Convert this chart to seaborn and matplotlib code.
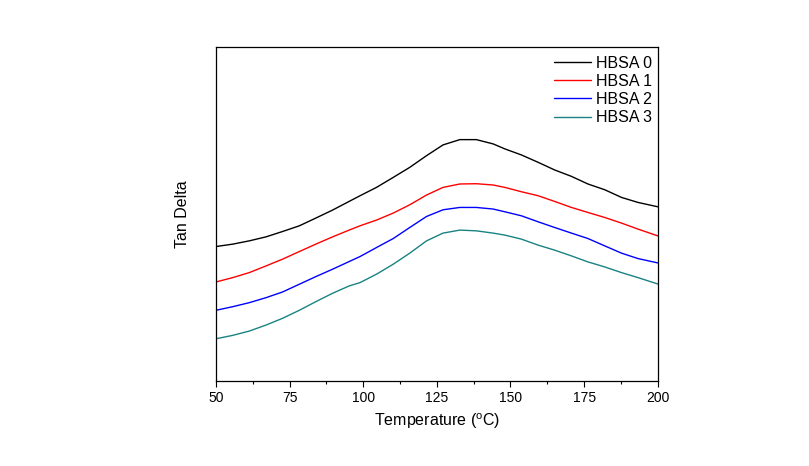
import seaborn as sns
import matplotlib.pyplot as plt
import pandas as pd
from matplotlib.ticker import MultipleLocator

# temperatures (deg C)
temps = [50, 55.7, 61.3, 67.0, 72.6, 78.3, 83.9, 89.6, 95.2, 98.9, 104.5, 110.2, 115.8, 121.5,
         127.1, 132.8, 138.4, 144.1, 148.1, 153.7, 159.4, 165.0, 170.7, 176.3, 182.0, 187.7, 193.3, 200]

# tan delta values, arbitrary units (no y scale in the figure)
hbsa0 = [0.2015, 0.2051, 0.210, 0.216, 0.2240, 0.2325, 0.2441, 0.2561, 0.2690, 0.2775,
         0.2900, 0.3050, 0.3200, 0.3375, 0.3536, 0.3615, 0.3615, 0.3551, 0.3476, 0.3386,
         0.3275, 0.3161, 0.3065, 0.2951, 0.2865, 0.2750, 0.2675, 0.2610]
hbsa1 = [0.1485, 0.1550, 0.1625, 0.1725, 0.1826, 0.1940, 0.2051, 0.2160, 0.2261, 0.2325,
         0.2411, 0.2516, 0.2640, 0.2786, 0.2900, 0.2951, 0.2955, 0.2936, 0.2900, 0.2835,
         0.2775, 0.2690, 0.2600, 0.2525, 0.2450, 0.2366, 0.2276, 0.2175]
hbsa2 = [0.1061, 0.1115, 0.1175, 0.1250, 0.1335, 0.1451, 0.1565, 0.1676, 0.1790, 0.1865,
         0.2000, 0.2135, 0.2300, 0.2465, 0.2565, 0.2600, 0.2600, 0.2576, 0.2535, 0.2475,
         0.2385, 0.2300, 0.2216, 0.2135, 0.2025, 0.1916, 0.1835, 0.1770]
hbsa3 = [0.0635, 0.0686, 0.0750, 0.0840, 0.0941, 0.1061, 0.1190, 0.1316, 0.1425, 0.1475,
         0.1601, 0.1751, 0.1916, 0.2100, 0.2216, 0.2261, 0.2250, 0.2216, 0.2186, 0.2126,
         0.2036, 0.1961, 0.1875, 0.1785, 0.1710, 0.1625, 0.1550, 0.1455]

names = ['HBSA 0', 'HBSA 1', 'HBSA 2', 'HBSA 3']
colors = ['black', '#ff0000', '#0000ff', '#1a8282']

# long-form table for seaborn
df = pd.concat([
  pd.DataFrame({'Temperature': temps, 'TanDelta': vals, 'Sample': name})
  for name, vals in zip(names, [hbsa0, hbsa1, hbsa2, hbsa3])
])

sns.set_style('ticks')
plt.rcParams['font.family'] = ['Liberation Sans', 'DejaVu Sans']
plt.rcParams['text.color'] = 'black'
plt.rcParams['axes.labelcolor'] = 'black'
plt.rcParams['xtick.color'] = 'black'

fig = plt.figure(figsize = (8.09, 4.66), dpi = 100)
ax = fig.add_axes([0.267, 0.182, 0.546, 0.717])

sns.lineplot(data = df, x = 'Temperature', y = 'TanDelta', hue = 'Sample',
             palette = colors, linewidth = 1.0, ax = ax)

ax.set_xlim(50, 200)
ax.set_ylim(0, 0.5)
ax.xaxis.set_major_locator(MultipleLocator(25))
ax.xaxis.set_minor_locator(MultipleLocator(12.5))
ax.tick_params(axis = 'x', which = 'major', direction = 'out', length = 4, width = 0.8, labelsize = 10, pad = 3)
ax.tick_params(axis = 'x', which = 'minor', direction = 'out', length = 2.5, width = 0.8)
ax.set_yticks([])
for sp in ax.spines.values():
  sp.set_visible(True)
  sp.set_linewidth(0.9)
  sp.set_color('black')

ax.set_xlabel('Temperature ($^\\mathregular{o}$C)', fontsize = 11.5, labelpad = 5)
ax.set_ylabel('Tan Delta', fontsize = 11.5, labelpad = 19)

# legend without frame in the upper right corner
leg = ax.legend(loc = 'upper right', frameon = False, fontsize = 11.5, handlelength = 2.3,
                labelspacing = 0.2, handletextpad = 0.3, borderaxespad = 0.3,
                bbox_to_anchor = (1.012, 1.008))

fig.savefig('out.png', dpi = 100)
